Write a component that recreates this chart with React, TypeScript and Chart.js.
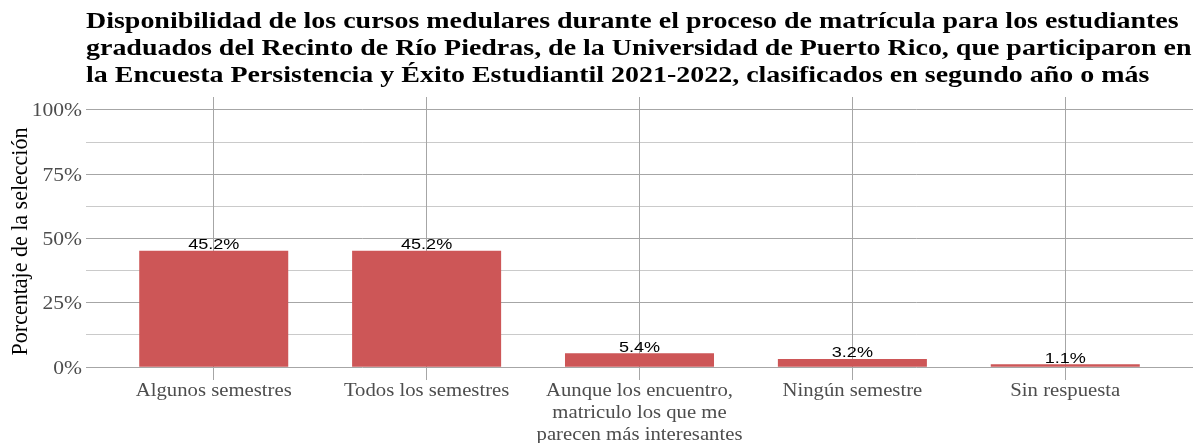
import React, { useEffect, useRef } from "react";
import { Chart, registerables } from "chart.js";

Chart.register(...registerables);

const titleLines = [
  "Disponibilidad de los cursos medulares durante el proceso de matrícula para los estudiantes",
  "graduados del Recinto de Río Piedras, de la Universidad de Puerto Rico, que participaron en",
  "la Encuesta Persistencia y Éxito Estudiantil 2021-2022, clasificados en segundo año o más",
];
const categories = [
  ["Algunos semestres"],
  ["Todos los semestres"],
  ["Aunque los encuentro,", "matriculo los que me", "parecen más interesantes"],
  ["Ningún semestre"],
  ["Sin respuesta"],
];
const values = [45.2, 45.2, 5.4, 3.2, 1.1];
const valueLabels = ["45.2%", "45.2%", "5.4%", "3.2%", "1.1%"];
const yTicks = [0, 12.5, 25, 37.5, 50, 62.5, 75, 87.5, 100];
const yTickLabels = ["0%", "", "25%", "", "50%", "", "75%", "", "100%"];
const yTitle = "Porcentaje de la selección";

const SERIF = '"Liberation Serif", "DejaVu Serif", serif';
const SANS = '"Liberation Sans", Arial, sans-serif';
const SX = 1.165;

function stretchedText(ctx: any, text: string, x: number, y: number, align: string) {
  ctx.save();
  ctx.translate(x, y);
  ctx.scale(SX, 1);
  ctx.textAlign = align;
  ctx.fillText(text, 0, 0);
  ctx.restore();
}

export default function App() {
  const ref = useRef<HTMLCanvasElement | null>(null);
  useEffect(() => {
    if (!ref.current) return;
    const overlay = {
      id: "overlay",
      afterDraw(chart: any) {
        const ctx = chart.ctx;
        const ca = chart.chartArea;
        const xs = chart.scales.x;
        const ys = chart.scales.y;
        ctx.save();
        ctx.textBaseline = "alphabetic";
        // title
        ctx.fillStyle = "#000";
        ctx.font = `bold 24px ${SERIF}`;
        titleLines.forEach((l, i) => stretchedText(ctx, l, 86, 28 + i * 27, "left"));
        // y title
        ctx.save();
        ctx.translate(27, (ca.top + ca.bottom) / 2 + 3);
        ctx.rotate(-Math.PI / 2);
        ctx.scale(1, 1.08);
        ctx.font = `22px ${SERIF}`;
        ctx.textAlign = "center";
        ctx.fillStyle = "#000";
        ctx.fillText(yTitle, 0, 0);
        ctx.restore();
        // y tick labels
        ctx.fillStyle = "#4d4d4d";
        ctx.font = `18.5px ${SERIF}`;
        yTicks.forEach((v, i) => {
          if (!yTickLabels[i]) return;
          stretchedText(ctx, yTickLabels[i], 82, ys.getPixelForValue(v) + 6.5, "right");
        });
        // x tick labels
        ctx.font = `17.8px ${SERIF}`;
        categories.forEach((lines, i) => {
          const px = xs.getPixelForValue(i);
          lines.forEach((l, j) => stretchedText(ctx, l, px, 396 + j * 22, "center"));
        });
        // value labels
        const meta = chart.getDatasetMeta(0);
        ctx.font = `15.5px ${SANS}`;
        ctx.fillStyle = "#000";
        meta.data.forEach((bar: any, i: number) => {
          stretchedText(ctx, valueLabels[i], bar.x, bar.y - 1.5, "center");
        });
        ctx.restore();
      },
    };
    const chart = new Chart(ref.current, {
      type: "bar",
      data: {
        datasets: [
          {
            data: values.map((v, i) => ({ x: i, y: v })),
            backgroundColor: "#CD5657",
            borderWidth: 0,
            barPercentage: 0.7,
            categoryPercentage: 1,
          },
        ],
      },
      plugins: [overlay],
      options: {
        animation: false,
        responsive: false,
        maintainAspectRatio: false,
        layout: { padding: { top: 97, right: 7, left: 0, bottom: 0 } },
        plugins: { legend: { display: false }, tooltip: { enabled: false }, title: { display: false } },
        scales: {
          x: {
            type: "linear",
            min: -0.6,
            max: 4.6,
            offset: false,
            afterBuildTicks: (s: any) => {
              s.ticks = categories.map((_, i) => ({ value: i }));
            },
            afterFit: (s: any) => {
              s.height = 63;
            },
            border: { display: false },
            grid: { offset: false, color: "#a6a6a6", lineWidth: 1, drawTicks: false },
            ticks: { display: false },
          },
          y: {
            min: -5,
            max: 105,
            afterBuildTicks: (s: any) => {
              s.ticks = yTicks.map((v) => ({ value: v }));
            },
            afterFit: (s: any) => {
              s.width = 86;
            },
            border: { display: false },
            grid: {
              drawTicks: false,
              color: "#a6a6a6",
              lineWidth: (c: any) => (c.tick && c.tick.value % 25 === 0 ? 1 : 0.6),
            },
            ticks: { display: false },
          },
        },
      },
    });
    return () => chart.destroy();
  }, []);
  return (
    <div style={{ position: "absolute", left: 0, top: 0, width: 1200, height: 443, background: "#fff" }}>
      <canvas ref={ref} width={1200} height={443} style={{ width: 1200, height: 443 }} />
    </div>
  );
}
